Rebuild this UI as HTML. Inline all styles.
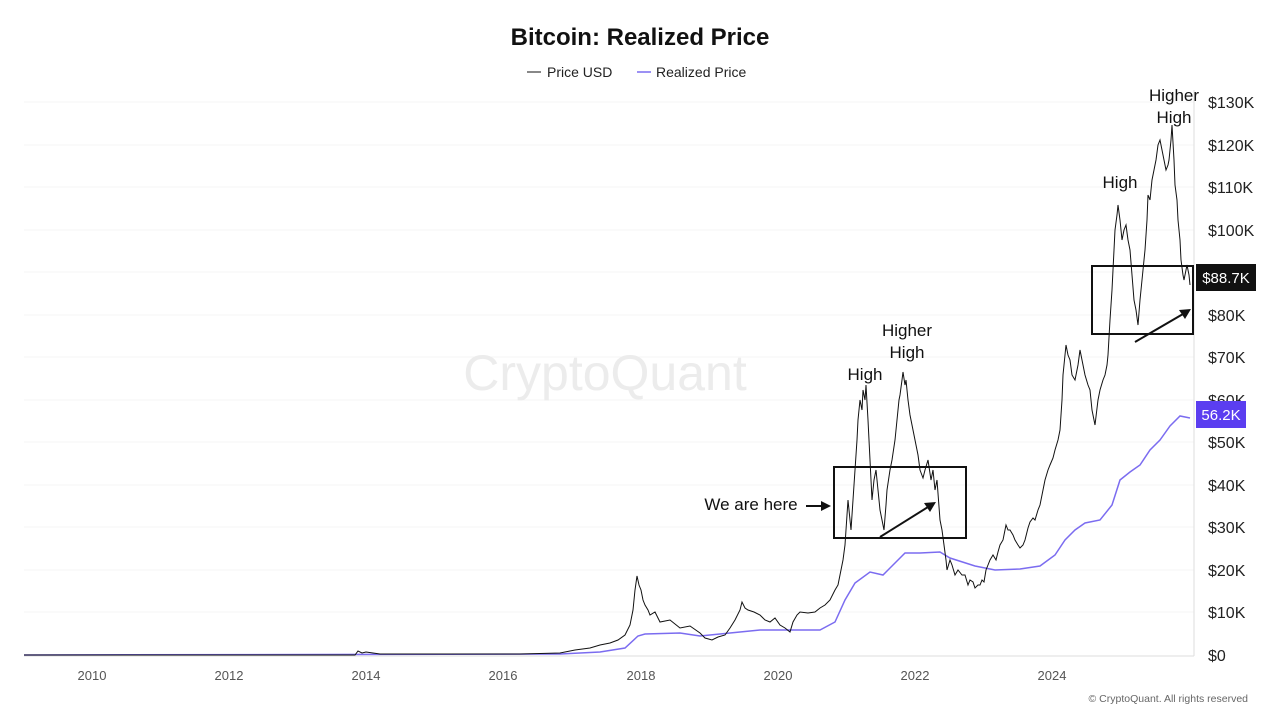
<!DOCTYPE html>
<html><head><meta charset="utf-8"><style>
body{margin:0;background:#fff;font-family:"Liberation Sans",sans-serif;}
svg{display:block}
</style></head><body>
<svg width="1280" height="720" viewBox="0 0 1280 720" xmlns="http://www.w3.org/2000/svg" font-family="Liberation Sans, sans-serif">
<rect width="1280" height="720" fill="#fff"/>
<text x="640" y="45" text-anchor="middle" font-size="24" font-weight="bold" fill="#111">Bitcoin: Realized Price</text>
<line x1="527" y1="72" x2="541" y2="72" stroke="#111" stroke-width="1"/>
<text x="547" y="77" font-size="14" fill="#222">Price USD</text>
<line x1="637" y1="72" x2="651" y2="72" stroke="#7b6cf0" stroke-width="1.5"/>
<text x="656" y="77" font-size="14" fill="#222">Realized Price</text>
<g stroke="#f6f6f6" stroke-width="1">
<line x1="24" y1="102" x2="1194" y2="102"/><line x1="24" y1="145" x2="1194" y2="145"/><line x1="24" y1="187" x2="1194" y2="187"/><line x1="24" y1="230" x2="1194" y2="230"/><line x1="24" y1="272" x2="1194" y2="272"/><line x1="24" y1="315" x2="1194" y2="315"/><line x1="24" y1="357" x2="1194" y2="357"/><line x1="24" y1="400" x2="1194" y2="400"/><line x1="24" y1="442" x2="1194" y2="442"/><line x1="24" y1="485" x2="1194" y2="485"/><line x1="24" y1="527" x2="1194" y2="527"/><line x1="24" y1="570" x2="1194" y2="570"/><line x1="24" y1="612" x2="1194" y2="612"/>
</g>
<line x1="24" y1="656" x2="1194" y2="656" stroke="#ddd"/>
<line x1="1194" y1="90" x2="1194" y2="656" stroke="#ddd"/>
<text x="605" y="390" text-anchor="middle" font-size="50" fill="#ececec">CryptoQuant</text>
<g font-size="13" fill="#555" text-anchor="middle">
<text x="92" y="680">2010</text><text x="229" y="680">2012</text><text x="366" y="680">2014</text><text x="503" y="680">2016</text><text x="641" y="680">2018</text><text x="778" y="680">2020</text><text x="915" y="680">2022</text><text x="1052" y="680">2024</text>
</g>
<g font-size="16" fill="#222">
<text x="1208" y="108">$130K</text><text x="1208" y="151">$120K</text><text x="1208" y="193">$110K</text><text x="1208" y="236">$100K</text><text x="1208" y="321">$80K</text><text x="1208" y="363">$70K</text><text x="1208" y="406">$60K</text><text x="1208" y="448">$50K</text><text x="1208" y="491">$40K</text><text x="1208" y="533">$30K</text><text x="1208" y="576">$20K</text><text x="1208" y="618">$10K</text><text x="1208" y="661">$0</text>
</g>
<polyline fill="none" stroke="#7b6cf0" stroke-width="1.5" points="24,655 560,654 600,652 625,648 638,636 645,634 680,633 700,636 730,633 760,630 790,630 820,630 835,622 845,600 855,583 870,572 883,575 893,565 900,558 905,553 920,553 940,552 950,558 975,566 995,570 1020,569 1040,566 1055,555 1065,540 1075,530 1085,523 1100,520 1112,505 1120,480 1130,472 1140,465 1150,450 1160,440 1170,426 1180,416 1190,418"/>
<polyline fill="none" stroke="#111" stroke-width="1" points="24,655 355,655 358,651 362,653 366,652 380,654 450,654 520,654 560,653 575,650 590,648 600,645 610,643 618,640 625,635 630,625 633,610 635,590 637,576 639,585 641,590 643,600 645,605 648,610 650,615 655,612 660,622 670,620 680,628 690,626 700,633 705,638 712,640 718,637 725,635 730,628 735,620 740,610 742,602 745,608 748,610 754,612 760,615 765,620 770,622 775,618 780,625 785,628 790,632 793,622 797,615 800,612 808,613 815,612 820,608 825,605 830,600 835,590 838,585 840,575 843,560 845,545 848,500 850,520 851,530 853,500 855,470 857,440 858,420 860,400 862,410 863,390 865,400 866,385 868,420 869,440 871,480 872,500 874,480 876,470 878,490 880,510 882,520 884,530 886,505 887,490 890,470 892,460 895,440 897,420 899,400 900,395 902,380 903,372 905,385 906,380 908,400 910,415 913,430 915,440 918,455 920,470 923,478 925,470 928,460 931,480 933,470 935,490 937,480 940,520 942,530 944,545 946,560 947,570 950,560 952,565 955,575 958,570 962,575 965,575 968,585 970,580 973,582 975,588 978,585 980,585 982,580 984,582 986,570 988,565 990,560 993,555 996,560 998,552 1000,545 1003,540 1005,530 1006,525 1008,530 1010,530 1013,535 1015,540 1018,545 1020,548 1023,545 1025,540 1028,528 1030,522 1033,518 1035,520 1038,510 1040,505 1043,490 1045,480 1048,470 1050,465 1053,458 1055,450 1058,440 1060,430 1062,400 1063,375 1065,355 1066,345 1068,355 1070,360 1072,375 1075,380 1078,365 1080,350 1083,365 1085,375 1088,385 1090,390 1092,410 1095,425 1098,400 1100,390 1103,380 1105,375 1107,365 1108,355 1110,320 1112,290 1114,250 1115,230 1117,215 1118,205 1120,220 1122,240 1124,230 1126,225 1128,240 1130,250 1132,275 1134,300 1136,310 1138,325 1140,300 1141,290 1143,270 1145,250 1147,220 1148,195 1150,200 1152,180 1154,170 1156,160 1158,145 1160,140 1162,150 1163,155 1165,165 1166,170 1168,165 1169,160 1171,140 1172,125 1174,160 1175,185 1177,200 1178,220 1180,240 1181,260 1183,275 1184,280 1186,270 1187,265 1189,275 1190,285"/>
<g fill="none" stroke="#111" stroke-width="2">
<rect x="834" y="467" width="132" height="71"/>
<rect x="1092" y="266" width="101" height="68"/>
<line x1="880" y1="537" x2="928" y2="507"/>
<line x1="1135" y1="342" x2="1183" y2="314"/>
<line x1="806" y1="506" x2="822" y2="506"/>
</g>
<g fill="#111">
<polygon points="936,502 924,503 930,512"/>
<polygon points="1191,309 1179,310 1185,319"/>
<polygon points="831,506 821,501 821,511"/>
</g>
<g font-size="17" fill="#111" text-anchor="middle">
<text x="865" y="380">High</text>
<text x="907" y="336">Higher</text><text x="907" y="358">High</text>
<text x="1120" y="188">High</text>
<text x="1174" y="101">Higher</text><text x="1174" y="123">High</text>
<text x="751" y="510">We are here</text>
</g>
<rect x="1196" y="264" width="60" height="27" fill="#111"/>
<text x="1226" y="283" text-anchor="middle" font-size="15" fill="#fff">$88.7K</text>
<rect x="1196" y="401" width="50" height="27" fill="#5b3ef0"/>
<text x="1221" y="420" text-anchor="middle" font-size="15" fill="#fff">56.2K</text>
<text x="1248" y="702" text-anchor="end" font-size="10.5" fill="#666">© CryptoQuant. All rights reserved</text>
</svg>
</body></html>
